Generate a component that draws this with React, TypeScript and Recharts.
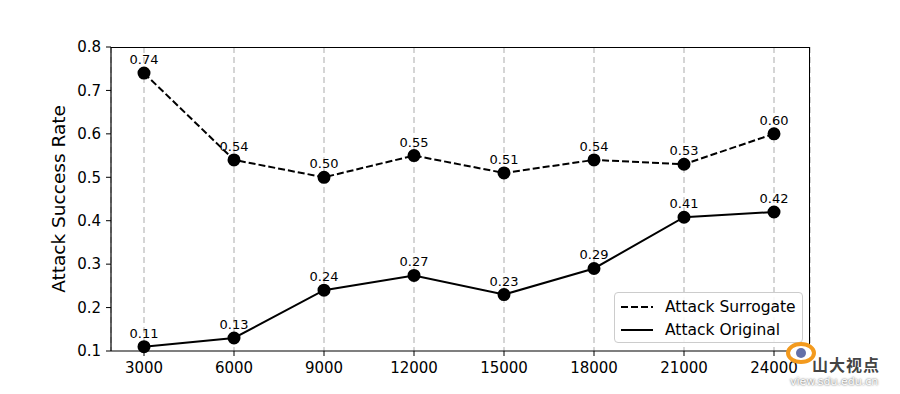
import { LineChart, Line, XAxis, YAxis, CartesianGrid, LabelList } from 'recharts';

const steps = ['3000', '6000', '9000', '12000', '15000', '18000', '21000', '24000'];
const surrogate = [0.74, 0.54, 0.5, 0.55, 0.51, 0.54, 0.53, 0.6];
const original = [0.11, 0.13, 0.24, 0.274, 0.23, 0.29, 0.408, 0.42];
const yTicks = [0.1, 0.2, 0.3, 0.4, 0.5, 0.6, 0.7, 0.8];

const data = steps.map((s, i) => ({ step: s, surrogate: surrogate[i], original: original[i] }));

const font = 'DejaVu Sans, sans-serif';

function PointLabel(props: any) {
  const { x, y, value } = props;
  return (
    <text x={x} y={y - 9} textAnchor="middle" fontSize={13} fontFamily={font} fill="#000">
      {Number(value).toFixed(2)}
    </text>
  );
}

function LegendBox() {
  const row = (dash: string | undefined, label: string) => (
    <div style={{ display: 'flex', alignItems: 'center', height: 23 }}>
      <svg width={34} height={10} style={{ marginRight: 11 }}>
        <line x1={1} y1={5} x2={33} y2={5} stroke="#000" strokeWidth={2} strokeDasharray={dash} />
      </svg>
      <span>{label}</span>
    </div>
  );
  return (
    <div
      style={{
        position: 'absolute',
        left: 614,
        top: 292,
        height: 51,
        boxSizing: 'border-box',
        border: '1px solid #ccc',
        borderRadius: 4,
        background: 'rgba(255,255,255,0.85)',
        padding: '2px 6px 2px 5px',
        fontFamily: font,
        fontSize: 15.5,
        color: '#000',
        width: 189,
      }}
    >
      {row('7 3', 'Attack Surrogate')}
      {row(undefined, 'Attack Original')}
    </div>
  );
}

export default function App() {
  return (
    <div style={{ position: 'absolute', left: 0, top: 0, width: 900, height: 394, background: '#fff' }}>
      <LineChart width={900} height={394} data={data} margin={{ top: 47, right: 90, bottom: 0, left: 0 }}>
        <CartesianGrid horizontal={false} stroke="#c8c8c8" strokeWidth={1.5} strokeDasharray="6 4" />
        <XAxis
          dataKey="step"
          padding={{ left: 33, right: 36 }}
          tickSize={5}
          tickMargin={6}
          tick={{ fontSize: 15, fontFamily: font, fill: '#000' }}
          axisLine={{ stroke: '#000', strokeWidth: 1.2 }}
          tickLine={{ stroke: '#000' }}
          height={43}
        />
        <YAxis
          domain={[0.1, 0.8]}
          ticks={yTicks}
          width={111}
          tickSize={5}
          tickMargin={5}
          tickFormatter={(v: number) => v.toFixed(1)}
          tick={{ fontSize: 15, fontFamily: font, fill: '#000' }}
          axisLine={{ stroke: '#000', strokeWidth: 1.2 }}
          tickLine={{ stroke: '#000' }}
          label={{ value: 'Attack Success Rate', angle: -90, position: 'insideLeft', offset: 58, style: { fontSize: 18.5, fontFamily: font, fill: '#000', textAnchor: 'middle' } }}
        />
        <Line
          name="Attack Surrogate"
          dataKey="surrogate"
          stroke="#000"
          strokeWidth={2}
          strokeDasharray="7 3"
          dot={{ r: 5.5, fill: '#000', stroke: '#000', strokeDasharray: '' }}
          activeDot={false}
          isAnimationActive={false}
        >
          <LabelList dataKey="surrogate" content={PointLabel} />
        </Line>
        <Line
          name="Attack Original"
          dataKey="original"
          stroke="#000"
          strokeWidth={2}
          dot={{ r: 5.5, fill: '#000', stroke: '#000' }}
          activeDot={false}
          isAnimationActive={false}
        >
          <LabelList dataKey="original" content={PointLabel} />
        </Line>
      </LineChart>
      {/* frame: top and right spines */}
      <div style={{ position: 'absolute', left: 111, top: 47, width: 699, height: 304, borderTop: '1.2px solid #000', borderRight: '1.2px solid #000', boxSizing: 'border-box', pointerEvents: 'none' }} />
      <LegendBox />
      <div style={{ position: 'absolute', left: 812, top: 352, fontFamily: '"Noto Sans CJK SC", sans-serif', fontWeight: 700, fontSize: 16, color: '#444', letterSpacing: 1 }}>
        山大视点
      </div>
      <div style={{ position: 'absolute', left: 790, top: 375, fontFamily: font, fontSize: 11, color: '#fff', textShadow: '0 0 2px #333' }}>
        view.sdu.edu.cn
      </div>
      <div style={{ position: 'absolute', left: 786, top: 342, width: 22, height: 14, borderRadius: '50%', border: '4px solid #f39a1e', background: '#fff' }}>
        <div style={{ margin: '2px auto', width: 10, height: 10, borderRadius: '50%', background: '#6470a8' }} />
      </div>
    </div>
  );
}
